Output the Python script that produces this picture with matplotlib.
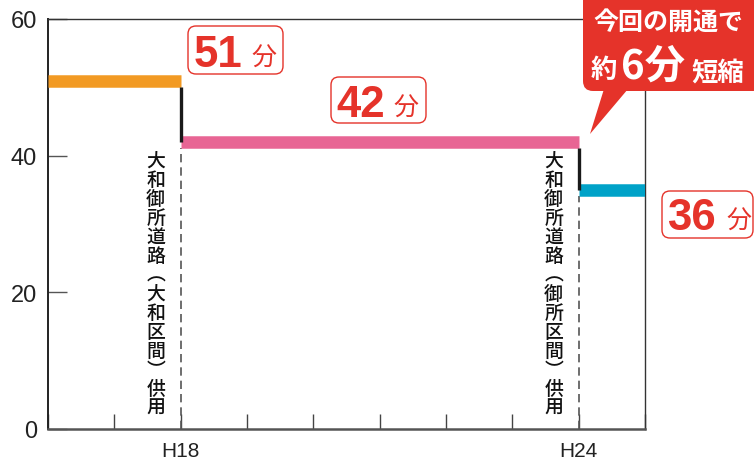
import matplotlib
matplotlib.use("Agg")
import matplotlib.pyplot as plt
from matplotlib.patches import FancyBboxPatch, Polygon

# ---------------- data ----------------
period_start = [16, 18, 24]          # Heisei year where each period starts
period_end = [18, 24, 25]            # Heisei year where each period ends
travel_time = [51, 42, 35]           # drawn level (minutes)
time_labels = ["51", "42", "36"]     # printed labels (minutes)
bar_colors = ["#f29a23", "#e86594", "#00a2c8"]
tick_years = [16, 17, 18, 19, 20, 21, 22, 23, 24, 25]
tick_labels = ["", "", "H18", "", "", "", "", "", "H24", ""]
y_ticks = [0, 20, 40, 60]
open_years = [18, 24]
open_texts = ["大和御所道路︵大和区間︶供用", "大和御所道路︵御所区間︶供用"]
callout_line1 = "今回の開通で"
callout_line2 = ["約", "6分", "短縮"]

W, H = 754, 464
RED = "#e5332a"
CJK = ["Noto Sans CJK JP", "DejaVu Sans"]
LAT = ["Liberation Sans", "DejaVu Sans"]

fig = plt.figure(figsize=(W / 100, H / 100), dpi=100)
ax = fig.add_axes([48 / W, 1 - 430 / H, (645 - 48) / W, (430 - 20) / H])
ax.set_xlim(16, 25)
ax.set_ylim(0, 60)

# level bars
ax.hlines(travel_time, period_start, period_end, colors=bar_colors,
          linewidth=9, zorder=3)
# step connectors
for i in range(1, len(travel_time)):
    ax.vlines(period_start[i], travel_time[i], travel_time[i - 1] - 0.9,
              colors="#1a1a1a", linewidth=2.4, zorder=4)
    ax.vlines(period_start[i], 0, travel_time[i] - 0.9, colors="#555555",
              linewidth=1.2, linestyles=(0, (5, 3)), zorder=2)

# axes styling
for s in ["left", "top", "right"]:
    ax.spines[s].set_color("#333333")
    ax.spines[s].set_linewidth(1.0)
ax.spines["left"].set_linewidth(1.4)
ax.spines["left"].set_color("#222222")
ax.spines["bottom"].set_color("#555555")
ax.spines["bottom"].set_linewidth(1.8)

ax.set_yticks(y_ticks)
ax.set_yticklabels([str(v) for v in y_ticks], fontfamily=LAT, fontsize=17,
                   color="#222222")
ax.tick_params(axis="y", direction="in", length=13.5, width=1.0,
               color="#555555", pad=8)
ax.set_xticks(tick_years)
ax.set_xticklabels(tick_labels, fontfamily=LAT, fontsize=15, color="#222222")
ax.tick_params(axis="x", direction="in", length=11, width=1.0,
               color="#444444", pad=9)

# ---------------- overlay in pixel coordinates ----------------
ov = fig.add_axes([0, 0, 1, 1])
ov.set_xlim(0, W)
ov.set_ylim(H, 0)
ov.axis("off")
ov.patch.set_alpha(0)

# vertical opening texts
fig.canvas.draw()
for yr, txt in zip(open_years, open_texts):
    xd, _ = ax.transData.transform((yr, 0))
    xc = xd - 25
    top = 161
    pitch = 19.0
    for i, ch in enumerate(txt):
        ov.text(xc, top + i * pitch, ch, fontfamily=CJK, fontsize=13.6,
                fontweight="medium", ha="center", va="center",
                color="#111111")


def label_box(x0, y0, x1, y1, num, xn, xf, base):
    ov.add_patch(FancyBboxPatch((x0, y0), x1 - x0, y1 - y0,
                                boxstyle="round,pad=0,rounding_size=8",
                                facecolor="white", edgecolor=RED,
                                linewidth=1.0, zorder=5))
    ov.text(xn, base, num, fontfamily=LAT, fontweight="bold", fontsize=31.5,
            color=RED, ha="left", va="baseline", zorder=6)
    ov.text(xf, base - 1, "分", fontfamily=CJK, fontsize=18, color=RED,
            ha="left", va="baseline", zorder=6)


label_box(188, 27, 283, 75, time_labels[0], 194, 251, 67)
label_box(331, 78, 426, 124, time_labels[1], 336, 393, 117)
label_box(662, 192, 753, 239, time_labels[2], 667, 726, 230)

# callout
ov.add_patch(FancyBboxPatch((583, -12), 180, 104,
                            boxstyle="round,pad=0,rounding_size=10",
                            facecolor=RED, edgecolor="none", zorder=7))
ov.add_patch(Polygon([(604, 90), (628, 90), (590, 135)], closed=True,
                     facecolor=RED, edgecolor="none", zorder=7))
ov.text(668, 23, callout_line1, fontfamily=CJK, fontweight="bold",
        fontsize=18, color="white", ha="center", va="center", zorder=8)
ov.text(591, 70, callout_line2[0], fontfamily=CJK, fontweight="bold",
        fontsize=19, color="white", ha="left", va="center", zorder=8)
ov.text(621, 67, callout_line2[1], fontfamily=CJK, fontweight="bold",
        fontsize=29, color="white", ha="left", va="center", zorder=8)
ov.text(692, 73, callout_line2[2], fontfamily=CJK, fontweight="bold",
        fontsize=19, color="white", ha="left", va="center", zorder=8)

fig.savefig("out.png", dpi=100)
